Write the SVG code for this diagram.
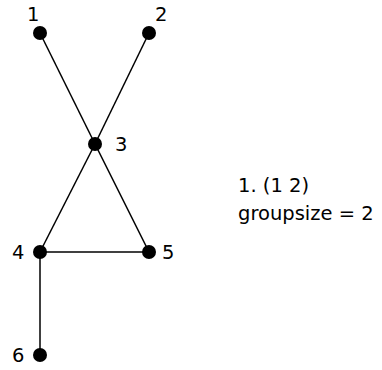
<svg xmlns="http://www.w3.org/2000/svg" width="382" height="370" viewBox="0 0 382 370">
<style>
.e{stroke:#000;stroke-width:1.5;fill:none}
.n{fill:#000}
text{font-family:"DejaVu Sans",sans-serif;font-size:19.5px;fill:#000}
</style>
<rect width="382" height="370" fill="#fff"/>
<g id="edges">
<line class="e" x1="40" y1="33" x2="95" y2="144"/>
<line class="e" x1="149" y1="33" x2="95" y2="144"/>
<line class="e" x1="95" y1="144" x2="40" y2="252"/>
<line class="e" x1="95" y1="144" x2="149" y2="252"/>
<line class="e" x1="40" y1="252" x2="149" y2="252"/>
<line class="e" x1="40" y1="252" x2="40" y2="355"/>
</g>
<g id="n1"><circle class="n" cx="40" cy="33" r="7"/><text x="27" y="21">1</text></g>
<g id="n2"><circle class="n" cx="149" cy="33" r="7"/><text x="155" y="21">2</text></g>
<g id="n3"><circle class="n" cx="95" cy="144" r="7"/><text x="115" y="151">3</text></g>
<g id="n4"><circle class="n" cx="40" cy="252" r="7"/><text x="12" y="259">4</text></g>
<g id="n5"><circle class="n" cx="149" cy="252" r="7"/><text x="162" y="259">5</text></g>
<g id="n6"><circle class="n" cx="40" cy="355" r="7"/><text x="12" y="362">6</text></g>
<g id="caption">
<text x="238" y="192">1. (1 2)</text>
<text x="238" y="220">groupsize = 2</text>
</g>
</svg>
